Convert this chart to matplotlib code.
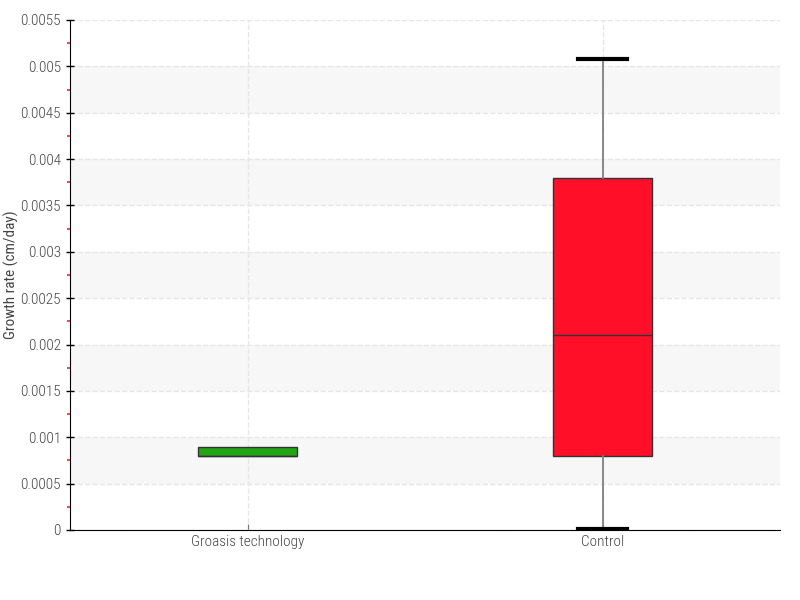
import numpy as np
import matplotlib.pyplot as plt
from matplotlib.ticker import MultipleLocator

# box plot summary
groups = ["Groasis technology", "Control"]
whisker_low = [0.0008, 0.00001]
q1 = [0.0008, 0.0008]
median = [0.0008, 0.0021]
q3 = [0.0009, 0.0038]
whisker_high = [0.0009, 0.00508]
colors = ["#22a414", "#ff1028"]

plt.rcParams['font.family'] = ['Roboto Condensed', 'Roboto', 'DejaVu Sans']
plt.rcParams['font.weight'] = 'light'

fig = plt.figure(figsize=(8, 6), dpi=100)
ax = fig.add_axes([0.0875, 0.1167, 0.8875, 0.85])

# alternating bands
for lo in np.arange(0.0005, 0.0055, 0.001):
    ax.axhspan(lo, lo + 0.0005, color="#f7f7f7", zorder=0, lw=0)

stats = []
for i, g in enumerate(groups):
    stats.append({
        "label": g, "whislo": whisker_low[i], "q1": q1[i], "med": median[i],
        "q3": q3[i], "whishi": whisker_high[i], "fliers": [],
    })

bp = ax.bxp(stats, positions=range(len(groups)), widths=0.28, patch_artist=True,
            showfliers=False, zorder=3)
for patch, c in zip(bp["boxes"], colors):
    patch.set_facecolor(c)
    patch.set_edgecolor("#333333")
    patch.set_linewidth(1)
for m in bp["medians"]:
    m.set_color("#333333")
    m.set_linewidth(1)
for w in bp["whiskers"]:
    w.set_color("#808080")
    w.set_linewidth(1.3)
for i, cap in enumerate(bp["caps"]):
    cap.set_color("black")
    cap.set_linewidth(3)
    if groups[i // 2] == "Groasis technology":
        cap.set_visible(False)

ax.set_xlim(-0.5, 1.5)
ax.set_ylim(0, 0.0055)
ax.yaxis.set_major_locator(MultipleLocator(0.0005))
ax.yaxis.set_minor_locator(MultipleLocator(0.00025))
ax.set_yticklabels([f"{v:g}" for v in ax.get_yticks()])
ax.tick_params(axis="y", which="major", direction="inout", length=6, width=1, colors="black",
               labelcolor="#444444", labelsize=11)
ax.tick_params(axis="y", which="minor", direction="out", length=2.5, width=1.2, color="#ff2020")
ax.tick_params(axis="x", direction="in", length=4, color="#777777", labelcolor="#444444",
               labelsize=11)

ax.grid(True, axis="both", which="major", linestyle="--", color="#e6e6e6", linewidth=1, zorder=1)
ax.set_axisbelow(True)
for s in ["top", "right"]:
    ax.spines[s].set_visible(False)
ax.spines["left"].set_color("black")
ax.spines["bottom"].set_color("black")

ax.set_ylabel("Growth rate (cm/day)", color="#444444", fontsize=11)
ax.yaxis.set_label_coords(-0.072, 0.5)

fig.savefig("out.png", dpi=100)
